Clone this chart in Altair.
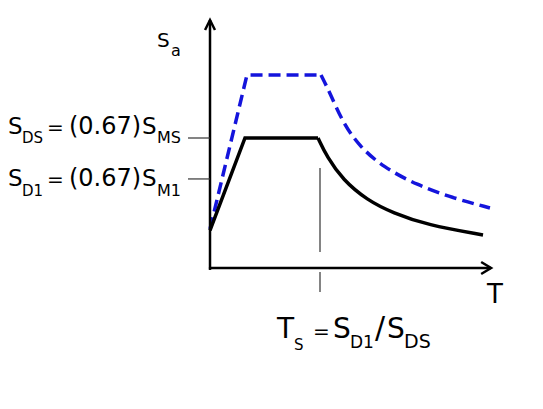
import altair as alt
import pandas as pd

# --- design spectrum sketch (T in units of Ts, Sa in units of S_DS) ---
black_ramp_T = [0.0, 0.318, 0.982]
black_ramp_S = [0.29, 1.0, 1.0]
black_decay_T = [0.982, 1.064, 1.209, 1.427, 1.664, 1.973, 2.482]
black_decay_S = [1.0, 0.854, 0.677, 0.523, 0.423, 0.331, 0.254]

blue_ramp_T = [0.0, 0.336, 1.009]
blue_ramp_S = [0.30, 1.485, 1.485]
blue_decay_T = [1.009, 1.091, 1.209, 1.364, 1.573, 1.882, 2.209, 2.545]
blue_decay_S = [1.485, 1.346, 1.115, 0.931, 0.777, 0.638, 0.538, 0.462]

# tick values on Sa axis and Ts on T axis
sds_value = 1.0
sd1_value = 0.685
ts_value = 1.0

# axis extents
x_axis_end = 2.555
y_axis_end = 1.908

# label pieces: text, T, Sa (baseline), font size
label_text = ["S", "DS", "=", "(0.67)", "S", "MS",
              "S", "D1", "=", "(0.67)", "S", "M1",
              "T", "S", "=", "S", "D1", "/", "S", "DS",
              "T", "S", "a"]
label_T = [-1.836, -1.709, -1.482, -1.282, -0.618, -0.482,
           -1.836, -1.709, -1.482, -1.282, -0.618, -0.482,
           0.609, 0.764, 0.936, 1.118, 1.273, 1.500, 1.609, 1.764,
           2.518, -0.482, -0.355]
label_S = [1.031, 0.962, 1.031, 1.031, 1.031, 0.962,
           0.631, 0.554, 0.631, 0.631, 0.631, 0.554,
           -0.538, -0.631, -0.538, -0.538, -0.615, -0.538, -0.538, -0.615,
           -0.269, 1.700, 1.631]
label_size = [23, 15, 20, 24, 23, 16,
              23, 15, 20, 24, 23, 16,
              28, 15, 20, 28, 17, 30, 28, 19,
              26, 20, 16]

xdom = [-1.8364, 2.8909]
ydom = [-1.0, 2.0]
xs = alt.Scale(domain=xdom, nice=False, zero=False)
ys = alt.Scale(domain=ydom, nice=False, zero=False)


def seg_df(T, S, name):
    return pd.DataFrame({"T": T, "Sa": S, "seg": name, "o": range(len(T))})


def line_layer(df, color, width, dash=None, interp="linear"):
    kw = dict(color=color, strokeWidth=width, interpolate=interp,
              strokeCap="butt", strokeJoin="miter")
    if dash:
        kw["strokeDash"] = dash
    return alt.Chart(df).mark_line(**kw).encode(
        x=alt.X("T:Q", scale=xs, axis=None),
        y=alt.Y("Sa:Q", scale=ys, axis=None),
        detail="seg:N",
        order="o:Q",
    )


blue = "#1414dc"
layers = []
layers.append(line_layer(seg_df(blue_ramp_T, blue_ramp_S, "br"), blue, 3.5, [12, 6]))
layers.append(line_layer(seg_df(blue_decay_T, blue_decay_S, "bd"), blue, 3.5, [12, 6], "basis"))
layers.append(line_layer(seg_df(black_ramp_T, black_ramp_S, "kr"), "black", 3.5))
layers.append(line_layer(seg_df(black_decay_T, black_decay_S, "kd"), "black", 3.5, None, "basis"))

# axes with arrowheads
axes_df = pd.concat([
    seg_df([0.0, 0.0], [-0.015, y_axis_end], "yaxis"),
    seg_df([-0.01, x_axis_end], [0.0, 0.0], "xaxis"),
    seg_df([-0.045, 0.0, 0.045], [y_axis_end - 0.077, y_axis_end, y_axis_end - 0.077], "yarrow"),
    seg_df([x_axis_end - 0.09, x_axis_end, x_axis_end - 0.09], [0.046, 0.0, -0.046], "xarrow"),
])
layers.append(line_layer(axes_df, "black", 2.5))

# thin ticks
ticks_df = pd.concat([
    seg_df([-0.2, 0.0], [sds_value, sds_value], "t1"),
    seg_df([-0.2, 0.0], [sd1_value, sd1_value], "t2"),
    seg_df([ts_value, ts_value], [0.123, 0.769], "t3"),
    seg_df([ts_value, ts_value], [-0.031, -0.185], "t4"),
])
layers.append(line_layer(ticks_df, "#333333", 1.2))

labels_df = pd.DataFrame({"txt": label_text, "T": label_T, "Sa": label_S, "fs": label_size})
layers.append(
    alt.Chart(labels_df).mark_text(align="left", baseline="alphabetic",
                                   font="DejaVu Sans", color="black").encode(
        x=alt.X("T:Q", scale=xs, axis=None),
        y=alt.Y("Sa:Q", scale=ys, axis=None),
        text="txt:N",
        size=alt.Size("fs:Q", scale=None, legend=None),
    )
)

chart = alt.layer(*layers).properties(
    width=520, height=390, padding=0,
    autosize=alt.AutoSizeParams(type="none"),
    background="white",
).configure_view(stroke=None)

chart.save("out.html", embed_options={"renderer": "svg", "actions": False})
